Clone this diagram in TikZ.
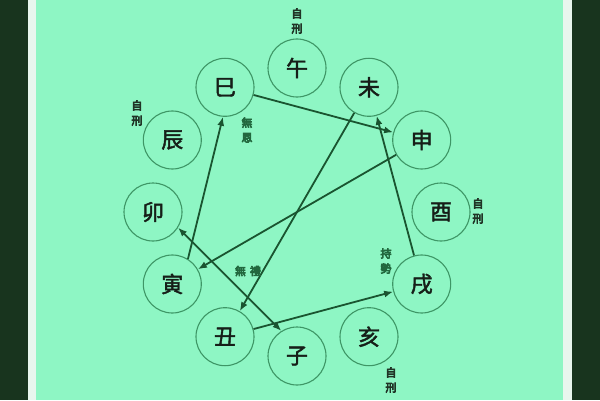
\documentclass[tikz,border=0pt]{standalone}
\usepackage{fontspec}
\usepackage{xcolor}
\usepackage{tikz}
\usetikzlibrary{arrows.meta}
\newfontfamily\cjk{Noto Sans CJK TC}[RawFeature={embolden=2}]
\newfontfamily\cjknote{Noto Sans CJK TC}[RawFeature={embolden=6}]
\definecolor{mint}{RGB}{142,246,196}
\definecolor{frame}{RGB}{24,52,30}
\definecolor{edge}{RGB}{232,246,238}
\definecolor{ringgreen}{RGB}{62,150,102}
\definecolor{arrowgreen}{RGB}{26,84,48}
\definecolor{notedark}{RGB}{32,52,38}
\definecolor{notegreen}{RGB}{34,104,62}
\definecolor{inkblack}{RGB}{22,30,24}

\tikzset{
  branch/.style={circle, draw=ringgreen, line width=1.1pt, minimum size=58pt,
    inner sep=0pt, text=inkblack, font=\cjk\fontsize{22}{22}\selectfont},
  note/.style={align=center, text=notedark,
    font=\cjknote\fontsize{11}{15}\selectfont},
  link/.style={->, line width=1.8pt, draw=arrowgreen},
}

\begin{document}
\begin{tikzpicture}[x=1pt, y=1pt, >={Latex[length=9pt, width=7pt]}]
    \useasboundingbox (0, 0) rectangle (600, 400);
    % background and side frames
    \fill [frame] (0, 0) rectangle (28, 400);
    \fill [edge] (28, 0) rectangle (36, 400);
    \fill [mint] (36, 0) rectangle (563, 400);
    \fill [edge] (563, 0) rectangle (572, 400);
    \fill [frame] (572, 0) rectangle (600, 400);

    % the twelve branches
    \node[branch](wu) at (297, 332){午};
    \node[branch](wei) at (369, 312.7){未};
    \node[branch](shen) at (421.7, 260){申};
    \node[branch](you) at (441, 188){酉};
    \node[branch](xu) at (421.7, 116){戌};
    \node[branch](hai) at (369, 63.3){亥};
    \node[branch](zi) at (297, 44){子};
    \node[branch](chou) at (225, 63.3){丑};
    \node[branch](yin) at (172.3, 116){寅};
    \node[branch](mao) at (153, 188){卯};
    \node[branch](chen) at (172.3, 260){辰};
    \node[branch](si) at (225, 312.7){巳};

    % self punishment
    \node[note](selfwu) at (297, 379){自\\刑};
    \node[note](selfchen) at (137, 287){自\\刑};
    \node[note](selfyou) at (478, 189){自\\刑};
    \node[note](selfhai) at (391, 20){自\\刑};

    % yin si shen
    \draw [link] (si) -- (shen);
    \draw [link] (shen) -- (yin);
    \draw [link] (yin.58) -- (si.-94);
    \node[note, text=notegreen](wuen) at (247, 270){無\\恩};

    % chou xu wei
    \draw [link] (wei) -- (chou);
    \draw [link] (xu) -- (wei);
    \draw [link] (chou) -- (xu);
    \node[note, text=notegreen](chishi) at (386, 139){持\\勢};

    % zi mao
    \draw [link, <->] (mao.-32) -- (zi.122);
    \node[note, text=notegreen](wuli) at (248, 129){無\hspace{4pt}禮};
  \end{tikzpicture}
\end{document}
